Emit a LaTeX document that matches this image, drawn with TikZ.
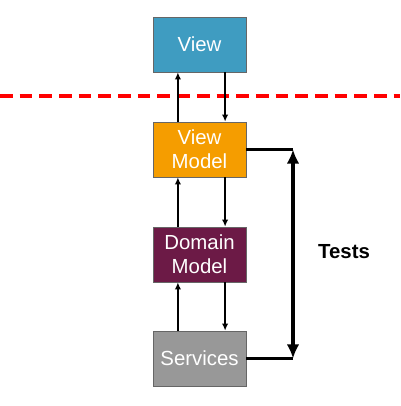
\documentclass[tikz,border=0pt]{standalone}
\usepackage{fontspec}
\setmainfont{Liberation Sans}
\usetikzlibrary{arrows.meta}
\begin{document}
\begin{tikzpicture}[x=0.025cm,y=-0.025cm,
 layer/.style={draw=black!60,line width=0.5pt,minimum width=2.325cm,minimum height=1.375cm,
   inner sep=0pt,align=center,text=white,font=\fontsize{14.5}{17}\selectfont},
 flow/.style={line width=1pt,-{Latex[length=5pt,width=4.5pt]}},
 testline/.style={line width=2.4pt}]
 \definecolor{viewcolor}{HTML}{3F9CC1}
 \definecolor{vmcolor}{HTML}{F59D00}
 \definecolor{dmcolor}{HTML}{6C1A46}
 \definecolor{servcolor}{HTML}{989898}
 \useasboundingbox (0,0) rectangle (400,406);
 \draw [red,line width=2.2pt,dash pattern=on 9pt off 5pt] (0,96) -- (400,96);
 \node [layer,fill=viewcolor] (view) at (199.5,44.5) {View};
 \node [layer,fill=vmcolor] (vm) at (199.5,149.5) {View\\Model};
 \node [layer,fill=dmcolor] (dm) at (199.5,254.5) {Domain\\Model};
 \node [layer,fill=servcolor] (serv) at (199.5,358.5) {Services};
 \draw [flow] ([xshift=-0.54cm]vm.north) -- ([xshift=-0.54cm]view.south);
 \draw [flow] ([xshift=0.64cm]view.south) -- ([xshift=0.64cm]vm.north);
 \draw [flow] ([xshift=-0.54cm]dm.north) -- ([xshift=-0.54cm]vm.south);
 \draw [flow] ([xshift=0.64cm]vm.south) -- ([xshift=0.64cm]dm.north);
 \draw [flow] ([xshift=-0.54cm]serv.north) -- ([xshift=-0.54cm]dm.south);
 \draw [flow] ([xshift=0.64cm]dm.south) -- ([xshift=0.64cm]serv.north);
 % tests bracket
 \coordinate (ttop) at (293,149.5);
 \coordinate (tbot) at (293,358.5);
 \draw [testline] (vm.east) -- (ttop);
 \draw [testline] (serv.east) -- (tbot);
 \draw [testline,{Latex[length=10pt,width=9pt]}-{Latex[length=10pt,width=9pt]}] (ttop) -- (tbot);
 \node [font=\bfseries\fontsize{14.5}{17}\selectfont] (tests) at (344,252) {Tests};
\end{tikzpicture}
\end{document}
